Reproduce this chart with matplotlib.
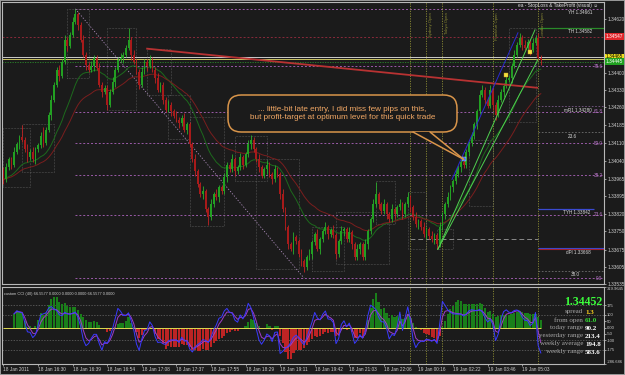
import numpy as np
import pandas as pd
import matplotlib
matplotlib.use("Agg")
import matplotlib.pyplot as plt
from matplotlib.patches import FancyBboxPatch, Polygon, Rectangle

plt.rcParams["font.family"] = ["Liberation Sans", "DejaVu Sans"]

# price data (18-19 Jan 2011), open of bar 0 then closes
first_open = 1.34004
closes = [
    1.33963, 1.34012, 1.34045, 1.34024, 1.34077, 1.34106, 1.34135, 1.34126, 1.34086, 1.34053,
    1.34077, 1.34045, 1.34086, 1.34102, 1.34139, 1.34114, 1.34167, 1.34228, 1.34290, 1.34351,
    1.34412, 1.34387, 1.34445, 1.34534, 1.34510, 1.34555, 1.34608, 1.34640, 1.34596, 1.34534,
    1.34473, 1.34432, 1.34412, 1.34428, 1.34461, 1.34420, 1.34351, 1.34322, 1.34339, 1.34269,
    1.34322, 1.34363, 1.34412, 1.34453, 1.34461, 1.34473, 1.34502, 1.34534, 1.34473, 1.34445,
    1.34404, 1.34351, 1.34404, 1.34445, 1.34428, 1.34453, 1.34412, 1.34379, 1.34330, 1.34351,
    1.34290, 1.34249, 1.34269, 1.34241, 1.34224, 1.34208, 1.34192, 1.34216, 1.34167, 1.34188,
    1.34106, 1.34045, 1.33996, 1.33943, 1.33902, 1.33914, 1.33841, 1.33808, 1.33861, 1.33902,
    1.33890, 1.33931, 1.33914, 1.33971, 1.34024, 1.34004, 1.34045, 1.33996, 1.34012, 1.34053,
    1.34024, 1.34065, 1.34106, 1.34126, 1.34086, 1.34045, 1.34012, 1.33979, 1.34004, 1.34024,
    1.33984, 1.33963, 1.34004, 1.33984, 1.33902, 1.33841, 1.33767, 1.33698, 1.33678, 1.33727,
    1.33710, 1.33657, 1.33629, 1.33604, 1.33645, 1.33657, 1.33706, 1.33739, 1.33678, 1.33718,
    1.33751, 1.33767, 1.33739, 1.33755, 1.33735, 1.33657, 1.33710, 1.33751, 1.33759, 1.33718,
    1.33747, 1.33698, 1.33645, 1.33678, 1.33698, 1.33645, 1.33698, 1.33751, 1.33800, 1.33861,
    1.33902, 1.33861, 1.33833, 1.33861, 1.33820, 1.33800, 1.33841, 1.33820, 1.33849, 1.33861,
    1.33820, 1.33861, 1.33890, 1.33849, 1.33808, 1.33780, 1.33792, 1.33767, 1.33739, 1.33759,
    1.33731, 1.33718, 1.33735, 1.33698, 1.33767, 1.33820, 1.33861, 1.33890, 1.33931, 1.33955,
    1.33984, 1.34012, 1.34033, 1.34020, 1.34077, 1.34110, 1.34139, 1.34188, 1.34241, 1.34310,
    1.34330, 1.34290, 1.34265, 1.34330, 1.34269, 1.34228, 1.34290, 1.34322, 1.34347, 1.34371,
    1.34379, 1.34428, 1.34473, 1.34514, 1.34543, 1.34514, 1.34502, 1.34526, 1.34494, 1.34522,
    1.34543, 1.34461, 1.34452,
]
# wick lengths above / below the body, in pips
wick_up = [
    1, 2, 1, 1, 2, 1, 1, 5, 1, 2, 1, 2, 1, 1, 2, 4, 1, 1, 2, 1,
    1, 2, 1, 2, 1, 1, 2, 2, 1, 1, 2, 1, 1, 2, 1, 1, 2, 1, 1, 1,
    1, 2, 1, 1, 2, 1, 1, 5, 1, 2, 1, 1, 2, 1, 1, 2, 1, 1, 2, 1,
    1, 1, 2, 1, 1, 2, 1, 1, 2, 1, 1, 1, 2, 1, 1, 2, 1, 1, 2, 1,
    2, 1, 1, 2, 1, 1, 2, 1, 1, 2, 1, 1, 2, 2, 1, 1, 2, 1, 1, 2,
    1, 1, 2, 1, 1, 2, 1, 1, 1, 2, 1, 1, 2, 1, 1, 2, 1, 1, 2, 1,
    1, 2, 1, 1, 2, 1, 1, 2, 1, 1, 2, 1, 1, 2, 1, 1, 2, 1, 1, 2,
    5, 1, 1, 2, 1, 1, 2, 1, 1, 2, 1, 1, 2, 1, 1, 2, 1, 1, 2, 1,
    1, 2, 1, 1, 2, 1, 1, 2, 1, 1, 2, 1, 1, 2, 1, 1, 2, 1, 1, 2,
    2, 1, 1, 2, 1, 1, 2, 1, 1, 2, 1, 1, 2, 1, 2, 1, 2, 1, 1, 2,
    1, 2, 1,
]
wick_dn = [
    2, 1, 1, 2, 1, 1, 2, 1, 1, 2, 1, 1, 2, 1, 1, 2, 1, 1, 2, 1,
    1, 2, 1, 1, 2, 1, 1, 1, 2, 1, 1, 2, 1, 1, 2, 1, 1, 2, 1, 2,
    1, 1, 2, 1, 1, 2, 1, 1, 2, 1, 1, 2, 1, 1, 2, 1, 1, 2, 1, 1,
    2, 1, 1, 2, 1, 1, 2, 1, 1, 2, 1, 1, 2, 1, 1, 2, 1, 3, 1, 1,
    1, 2, 1, 1, 2, 1, 1, 2, 1, 1, 2, 1, 1, 2, 1, 1, 2, 1, 1, 2,
    1, 2, 1, 1, 2, 1, 1, 2, 1, 2, 1, 1, 2, 2, 1, 1, 2, 1, 1, 2,
    1, 1, 2, 1, 1, 2, 1, 1, 2, 1, 1, 2, 1, 1, 2, 1, 1, 2, 1, 1,
    1, 2, 1, 1, 2, 1, 1, 2, 1, 1, 2, 1, 1, 2, 1, 1, 2, 1, 1, 2,
    1, 1, 2, 2, 1, 1, 2, 1, 1, 2, 1, 1, 2, 1, 1, 2, 1, 1, 2, 1,
    1, 2, 1, 1, 2, 2, 1, 1, 2, 1, 1, 2, 1, 1, 1, 2, 1, 1, 2, 1,
    1, 1, 2,
]

date_labels = ["18 Jan 2011", "18 Jan 16:30", "18 Jan 16:39", "18 Jan 16:54", "18 Jan 17:08",
               "18 Jan 17:37", "18 Jan 17:55", "18 Jan 18:29", "18 Jan 19:11", "18 Jan 19:42",
               "18 Jan 21:03", "18 Jan 22:06", "19 Jan 00:16", "19 Jan 02:22", "19 Jan 03:46",
               "19 Jan 05:03"]
price_ticks = [1.34620, 1.34400, 1.34330, 1.34260, 1.34185, 1.34110, 1.34040, 1.33965,
               1.33895, 1.33820, 1.33750, 1.33675, 1.33605, 1.33535]
cci_ticks = [319.9645, 175, 100, 50, 0, -50, -100, -175, -286.686]
cci_tick_labels = ["319.9645", "175", "100", "50", "0.00", "-50", "-100", "-175", "-286.686"]

# fibonacci drawn from the 16:39 top to the 19:11 bottom
fib_high = 1.34661
fib_low = 1.33559
fib_bars = [27, 113]
fib_ratios = [0.0, 0.236, 0.382, 0.5, 0.618, 0.786, 1.0]
fib_names = ["0.0", "23.6", "38.2", "50.0", "61.8", "78.6", ""]

# dotted range boxes: start bar, end bar, low, high
box_start = [0, 7, 24, 39, 54, 62, 70, 87, 95, 116, 125, 140, 152, 163, 175, 190]
box_end = [10, 19, 32, 50, 63, 70, 83, 99, 111, 128, 145, 147, 159, 169, 184, 200]
box_low = [1.33930, 1.33992, 1.34379, 1.34249, 1.34310, 1.34130, 1.33771, 1.33955,
           1.33596, 1.33588, 1.33616, 1.33780, 1.33677, 1.33677, 1.33853, 1.34196]
box_high = [1.34175, 1.34188, 1.34660, 1.34583, 1.34498, 1.34310, 1.34220, 1.34139,
            1.34045, 1.33767, 1.33828, 1.33955, 1.33910, 1.33759, 1.34126, 1.34583]

# hand drawn lines: (bar0, bar1, price0, price1)
red_trend = (54, 200.6, 1.34498, 1.34338)
green_fan = [(163.3, 199.8, 1.33677, 1.34575), (163.3, 200.9, 1.33677, 1.34453)]
blue_line = (168.6, 193.4, 1.33963, 1.34563)

session_bars = [159, 165, 184, 201]
session_names = ["Sydney Open", "Tokyo Open", "Frankfurt Open", "London Open"]
day_break = 153
day_open = 1.33718

trade_bars = [173, 189, 198]
trade_prices = [1.34045, 1.34392, 1.34485]

info_names = ["spread", "from open", "today range", "yesterday range", "weekly average", "weekly range"]
info_values = ["1.3", "61.0", "90.2", "213.4", "194.8", "583.6"]
bid = 1.34452

BG = "#1b1b1b"
BULL = "#22a022"
BEAR = "#a81a1a"
FIB = "#9a5aa8"
OLIVE = "#8c8c34"
AX_TXT = "#cfcfcf"
ORANGE = "#d9954a"
ORANGE_TXT = "#f2a865"

c = np.array(closes)
o = np.concatenate([[first_open], c[:-1]])
pip = 0.0001
hi = np.maximum(o, c) + np.array(wick_up) * pip
lo = np.minimum(o, c) - np.array(wick_dn) * pip
x = np.arange(len(c))
up = c >= o
xmin, xmax = -0.56, 225.75

fig = plt.figure(figsize=(6.25, 3.75), dpi=100, facecolor=BG)


def fx(px):
    return px / 625


def fy(py):
    return 1 - py / 375


ax = fig.add_axes([fx(2), fy(284), 602 / 625, 282 / 375], facecolor=BG)
axc = fig.add_axes([fx(2), fy(364), 602 / 625, 77 / 375], facecolor=BG)

for a in (ax, axc):
    a.set_xlim(xmin, xmax)
    for sp in a.spines.values():
        sp.set_color("#b8b8b8")
        sp.set_linewidth(0.8)

ax.set_ylim(1.33535, 1.34689)

# ---- horizontal levels ----
ax.axhline(1.34547, color="#8a2a3a", lw=0.7, ls=(0, (2, 2)), zorder=1)
ax.axhline(1.34465, color="#e8e8e8", lw=0.6, zorder=1)
ax.axhline(1.34457, color="#e6dc6a", lw=0.6, zorder=1)
ax.axhline(1.34445, color="#2a8a2a", lw=0.6, ls=(0, (1.5, 1.5)), zorder=1)

for r, name in zip(fib_ratios, fib_names):
    lvl = fib_low + r * (fib_high - fib_low)
    ax.hlines(lvl, fib_bars[0], xmax, color=FIB, lw=0.7, ls=(0, (2, 2)), zorder=1)
    if name:
        ax.text(225.2, lvl, name, ha="right", va="center", fontsize=3.3, color="#b878c8", zorder=9)
ax.plot(fib_bars, [fib_high, fib_low], color="#a98ab8", lw=0.6, ls=(0, (1.5, 2)), zorder=1)

# levels to the right of the last bar
ax.hlines(1.34582, 201, xmax, color="#2a8a2a", lw=0.9, zorder=2)
ax.hlines(1.34262, 201, xmax, color="#7a5a8a", lw=0.6, ls=(0, (2, 2)), zorder=2)
ax.hlines(1.34155, 201, xmax, color="#707070", lw=0.6, ls=(0, (2, 2)), zorder=2)
ax.hlines(1.33842, 201, 222, color="#3a4ad0", lw=0.9, zorder=2)
ax.hlines(1.33683, 201, xmax, color="#3a4ad0", lw=0.8, zorder=2)
ax.hlines(1.33677, 201, xmax, color="#a02030", lw=0.8, zorder=2)
ax.hlines(1.33590, 201, xmax, color="#707070", lw=0.6, ls=(0, (2, 2)), zorder=2)
side_kw = dict(fontsize=3.3, color="#d8d8d8", zorder=9)
ax.text(221.2, 1.34644, "YH 1.34661", ha="right", va="center", **side_kw)
ax.text(221.2, 1.34567, "TH 1.34582", ha="right", va="center", **side_kw)
ax.text(221.2, 1.34245, "mR1 1.34280", ha="right", va="center", **side_kw)
ax.text(213.7, 1.34140, "23.6", ha="center", va="center", **side_kw)
ax.text(220.8, 1.33827, "TYH 1.33842", ha="right", va="center", **side_kw)
ax.text(220.8, 1.33663, "dPl 1.33668", ha="right", va="center", **side_kw)
ax.text(214.8, 1.33575, "38.0", ha="center", va="center", **side_kw)

# ---- range boxes ----
for b0, b1, l, h in zip(box_start, box_end, box_low, box_high):
    ax.add_patch(Rectangle((b0, l), b1 - b0, h - l, fill=False, ec="#6c6c6c",
                           lw=0.45, ls=(0, (1.0, 1.4)), zorder=1.5))

# ---- sessions ----
for a in (ax, axc):
    a.axvline(day_break, color=OLIVE, lw=0.6, ls=(0, (1.5, 1.5)), zorder=1)
    for sb in session_bars:
        a.axvline(sb, color=OLIVE, lw=0.6, ls=(0, (1.5, 1.5)), zorder=1)
for sb, name in zip(session_bars, session_names):
    ax.text(sb + 0.9, 1.34648, name, rotation=90, ha="left", va="top", fontsize=3.0, color=OLIVE, zorder=3)
ax.hlines(day_open, day_break, session_bars[-1], color="#8a8a8a", lw=0.7, ls=(0, (5, 3)), zorder=1.5)

# ---- moving averages ----
s = pd.Series(c)
ax.plot(x, s.ewm(span=20, adjust=False).mean(), color="#1d6a1d", lw=0.7, zorder=2)
ax.plot(x, s.ewm(span=34, adjust=False).mean(), color="#7a1e1e", lw=0.7, zorder=2)

# ---- candles ----
ax.vlines(x, lo, hi, colors=np.where(up, "#2bb02b", "#c02424"), lw=0.6, zorder=3)
ax.bar(x, np.maximum(np.abs(c - o), 0.00002), bottom=np.minimum(o, c), width=0.66,
       color=np.where(up, BULL, BEAR), lw=0, zorder=4)

# ---- trend lines ----
ax.plot(red_trend[:2], red_trend[2:], color="#b83232", lw=1.3, zorder=5)
for g in green_fan:
    ax.plot(g[:2], g[2:], color="#4fd04f", lw=0.7, zorder=5)
ax.plot(blue_line[:2], blue_line[2:], color="#2a2ad0", lw=0.7, zorder=5)

# trade markers
ax.plot(trade_bars[0], trade_prices[0], marker="s", ms=2.6, mfc="#2a6aff", mec="#e0e0e0", mew=0.3, zorder=9)
ax.plot(trade_bars[1:], trade_prices[1:], ls="none", marker="s", ms=3.0, mfc="#f2e040", mec="#c8a020", mew=0.3, zorder=9)

# ---- callout ----
bx0, by0, bw, bh = 0.3754, 0.5390, 0.3804, 0.1312
ax.add_patch(FancyBboxPatch((bx0, by0), bw, bh, boxstyle="round,pad=0,rounding_size=0.022",
                            mutation_aspect=2.13, transform=ax.transAxes, fc=BG, ec=ORANGE,
                            lw=1.1, zorder=10))
tip = ax.transAxes.inverted().transform(ax.transData.transform((trade_bars[0], trade_prices[0])))
base = [(0.6827, by0), (0.7110, by0)]
ax.add_patch(Polygon([base[0], base[1], tip], closed=True, fc=BG, ec="none",
                     transform=ax.transAxes, zorder=10.5))
for bp in base:
    ax.plot([bp[0], tip[0]], [bp[1], tip[1]], color=ORANGE, lw=1.1, transform=ax.transAxes,
            zorder=11, solid_capstyle="round")
ax.text(bx0 + bw / 2, by0 + bh / 2,
        "... little-bit late entry, I did miss few pips on this,\n"
        "but profit-target at optimum level for this quick trade",
        transform=ax.transAxes, ha="center", va="center", fontsize=5.9, color=ORANGE_TXT,
        linespacing=1.2, zorder=12)

# ---- price axis ----
ax.yaxis.tick_right()
ax.set_yticks(price_ticks)
ax.set_yticklabels([f"{p:.5f}" for p in price_ticks])
ax.tick_params(axis="y", labelsize=3.4, colors=AX_TXT, length=1.5, width=0.5, pad=1.2)
ax.tick_params(axis="x", bottom=False, labelbottom=False)
tag_tr = ax.get_yaxis_transform()
for val, bgc, fgc in [(1.34547, "#e0262b", "white"), (1.34465, "#f0e020", "black"),
                      (1.34445, "#20a020", "white")]:
    ax.text(1.003, val, f"{val:.5f}", transform=tag_tr, ha="left", va="center", fontsize=3.4,
            color=fgc, clip_on=False, zorder=12,
            bbox=dict(boxstyle="square,pad=0.15", fc=bgc, ec="none"))

fig.text(fx(598), fy(6), "ea - StopLoss & TakeProfit (visual) \u263a", ha="right", va="center",
         fontsize=3.4, color="#e0e0e0")

# ---- CCI panel ----
tp = pd.Series((hi + lo + c) / 3)


def cci(series, n):
    m = series.rolling(n, min_periods=5).mean()
    d = series.rolling(n, min_periods=5).apply(lambda w: np.mean(np.abs(w - w.mean())), raw=True)
    return (series - m) / (0.015 * d)


cci_hist = cci(tp, 30).fillna(0).values
cci_fast = cci(tp, 8)
cci_slow = cci_fast.ewm(span=3).mean()

axc.set_ylim(-286.686, 319.9645)
for lvl in (175, 100, -100, -175):
    axc.axhline(lvl, color="#6a6a6a", lw=0.5, ls=(0, (2, 2)), zorder=1)
axc.bar(x, cci_hist, width=0.8, color=np.where(cci_hist >= 0, "#1a7f1a", "#bd2424"), lw=0, zorder=2)
axc.hlines(0, 0, len(c) - 1, color="#e0dc50", lw=0.7, zorder=3)
axc.plot(x, cci_slow, color="#a03cc8", lw=0.7, zorder=4)
axc.plot(x, cci_fast, color="#3a3aff", lw=0.7, zorder=4)
axc.text(0.004, 0.93, "custom CCI (40) 66.5577 0.0000 0.0000 0.0000 66.5577 0.0000",
         transform=axc.transAxes, ha="left", va="top", fontsize=2.8, color="#d0d0d0", zorder=6)

axc.yaxis.tick_right()
axc.set_yticks(cci_ticks)
axc.set_yticklabels(cci_tick_labels)
axc.tick_params(axis="y", labelsize=3.0, colors=AX_TXT, length=1.2, width=0.5, pad=0.8)
ylbls = axc.get_yticklabels()
ylbls[0].set_va("top")
ylbls[-1].set_va("bottom")
axc.set_xticks(np.arange(len(date_labels)) * 13)
axc.set_xticklabels(date_labels)
axc.tick_params(axis="x", labelsize=3.4, colors=AX_TXT, length=1.5, width=0.5, pad=1.0)
for lbl in axc.get_xticklabels():
    lbl.set_ha("left")

# info block
serif = ["Liberation Serif", "DejaVu Serif"]
fig.text(fx(602), fy(302), f"{bid:.5f}", ha="right", va="center", fontsize=8.6,
         fontweight="bold", color="#3cff3c", family=serif)
value_colors = ["#ffd21e", "#33dd33", "white", "white", "white", "white"]
for k, (nm, vl, vc) in enumerate(zip(info_names, info_values, value_colors)):
    yy = fy(312 + 8 * k)
    fig.text(fx(583), yy, nm, ha="right", va="center", fontsize=5.0, color="#a8a8a8", family=serif)
    fig.text(fx(585), yy, vl, ha="left", va="center", fontsize=5.0, fontweight="bold",
             color=vc, family=serif)

fig.add_artist(Rectangle((0, 0), 1, 1, transform=fig.transFigure, fill=False, ec="#9a9a9a", lw=1.4))

fig.savefig("out.png", dpi=100, facecolor=BG)
